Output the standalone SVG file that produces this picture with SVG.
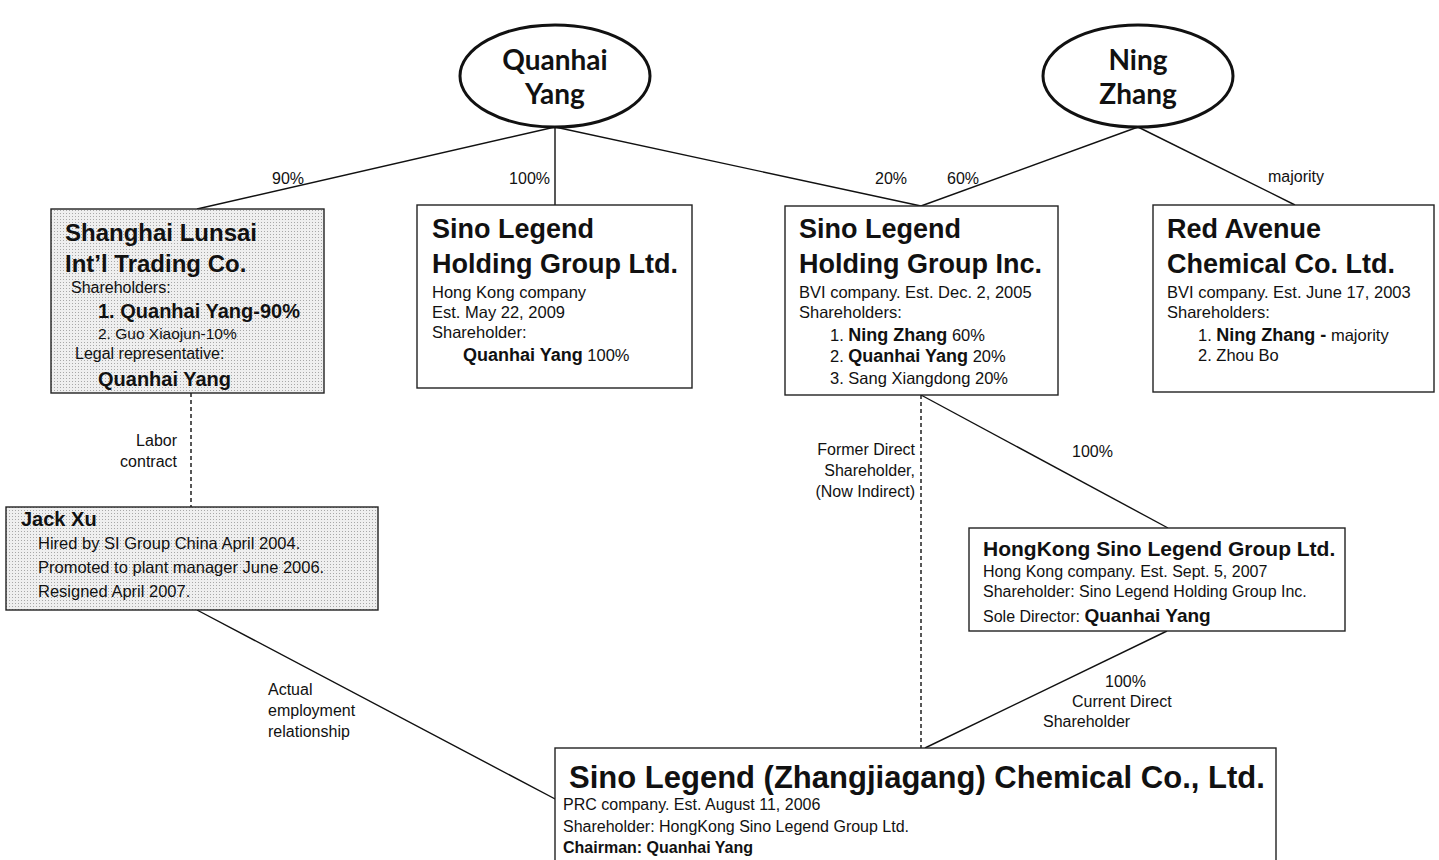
<svg xmlns="http://www.w3.org/2000/svg" width="1439" height="860" viewBox="0 0 1439 860">
<defs>
<pattern id="ht" width="3" height="3" patternUnits="userSpaceOnUse">
<rect width="3" height="3" fill="#efefef"/>
<rect width="1" height="1" fill="#a8a8a8"/>
</pattern>
</defs>
<style>
text{font-family:"Liberation Sans",Arial,sans-serif;fill:#111}
.box{fill:#fff;stroke:#222;stroke-width:1.4}
.shade{fill:url(#ht);stroke:#222;stroke-width:1.4}
.ell{fill:#fff;stroke:#111;stroke-width:3}
.person{font-family:Lato,"Open Sans",sans-serif;font-weight:700;font-size:28px;text-anchor:middle}
.t1{font-size:27px;font-weight:700}
.t2{font-size:24px;font-weight:700}
.b{font-size:16.5px}
.bb{font-weight:700}
.lbl{font-size:16px}
.end{text-anchor:end}
.ln{stroke:#111;stroke-width:1.4;fill:none}
.dash{stroke:#111;stroke-width:1.4;fill:none;stroke-dasharray:4 3}
</style>
<g id="connectors">
<line class="ln" x1="555" y1="127" x2="197" y2="209"/>
<line class="ln" x1="555" y1="127" x2="555" y2="205"/>
<line class="ln" x1="555" y1="127" x2="921" y2="206"/>
<line class="ln" x1="1138" y1="127" x2="921" y2="206"/>
<line class="ln" x1="1138" y1="127" x2="1295" y2="205"/>
<line class="ln" x1="921" y1="395" x2="1168" y2="528"/>
<line class="dash" x1="921" y1="395" x2="921" y2="748"/>
<line class="dash" x1="191" y1="393" x2="191" y2="507"/>
<polyline class="ln" points="197,610 557,800 563,806"/>
<line class="ln" x1="1167" y1="631" x2="925" y2="748"/>
<text class="lbl" x="272" y="184">90%</text>
<text class="lbl end" x="550" y="184">100%</text>
<text class="lbl" x="875" y="184">20%</text>
<text class="lbl" x="947" y="184">60%</text>
<text class="lbl" x="1268" y="182">majority</text>
<text class="lbl end" x="177" y="446">Labor</text>
<text class="lbl end" x="177" y="467">contract</text>
<text class="lbl end" x="915" y="455">Former Direct</text>
<text class="lbl end" x="915" y="476">Shareholder,</text>
<text class="lbl end" x="915" y="497">(Now Indirect)</text>
<text class="lbl" x="1072" y="457">100%</text>
<text class="lbl" x="268" y="695">Actual</text>
<text class="lbl" x="268" y="716">employment</text>
<text class="lbl" x="268" y="737">relationship</text>
<text class="lbl" x="1105" y="687">100%</text>
<text class="lbl" x="1072" y="707">Current Direct</text>
<text class="lbl" x="1043" y="727">Shareholder</text>
</g>
<g id="quanhai-yang">
<ellipse class="ell" cx="555" cy="76" rx="95" ry="51"/>
<text class="person" x="555" y="70">Quanhai</text>
<text class="person" x="555" y="104">Yang</text>
</g>
<g id="ning-zhang">
<ellipse class="ell" cx="1138" cy="76" rx="95" ry="51"/>
<text class="person" x="1138" y="70">Ning</text>
<text class="person" x="1138" y="104">Zhang</text>
</g>
<g id="shanghai-lunsai">
<rect class="shade" x="51" y="209" width="273" height="184"/>
<text class="t2" x="65" y="241">Shanghai Lunsai</text>
<text class="t2" x="65" y="272">Int’l Trading Co.</text>
<text class="b" x="71" y="293" style="font-size:16px">Shareholders:</text>
<text class="bb" x="98" y="318" style="font-size:20px">1. Quanhai Yang-90%</text>
<text x="98" y="339" style="font-size:15.5px">2. Guo Xiaojun-10%</text>
<text x="75" y="359" style="font-size:16px">Legal representative:</text>
<text class="bb" x="98" y="386" style="font-size:20px">Quanhai Yang</text>
</g>
<g id="jack-xu">
<rect class="shade" x="6" y="507" width="372" height="103"/>
<text class="bb" x="21" y="526" style="font-size:20px">Jack Xu</text>
<text class="b" x="38" y="549">Hired by SI Group China April 2004.</text>
<text class="b" x="38" y="573">Promoted to plant manager June 2006.</text>
<text class="b" x="38" y="597">Resigned April 2007.</text>
</g>
<g id="sino-legend-ltd">
<rect class="box" x="417" y="205" width="275" height="183"/>
<text class="t1" x="432" y="238">Sino Legend</text>
<text class="t1" x="432" y="273">Holding Group Ltd.</text>
<text class="b" x="432" y="298">Hong Kong company</text>
<text class="b" x="432" y="318">Est. May 22, 2009</text>
<text class="b" x="432" y="338">Shareholder:</text>
<text class="b" x="463" y="361"><tspan class="bb" style="font-size:18px">Quanhai Yang</tspan> 100%</text>
</g>
<g id="sino-legend-inc">
<rect class="box" x="785" y="206" width="273" height="189"/>
<text class="t1" x="799" y="238">Sino Legend</text>
<text class="t1" x="799" y="273">Holding Group Inc.</text>
<text class="b" x="799" y="298">BVI company. Est. Dec. 2, 2005</text>
<text class="b" x="799" y="318">Shareholders:</text>
<text class="b" x="830" y="341">1. <tspan class="bb" style="font-size:18px">Ning Zhang</tspan> 60%</text>
<text class="b" x="830" y="362">2. <tspan class="bb" style="font-size:18px">Quanhai Yang</tspan> 20%</text>
<text class="b" x="830" y="384">3. Sang Xiangdong 20%</text>
</g>
<g id="red-avenue">
<rect class="box" x="1153" y="205" width="281" height="187"/>
<text class="t1" x="1167" y="238">Red Avenue</text>
<text class="t1" x="1167" y="273">Chemical Co. Ltd.</text>
<text class="b" x="1167" y="298">BVI company. Est. June 17, 2003</text>
<text class="b" x="1167" y="318">Shareholders:</text>
<text class="b" x="1198" y="341">1. <tspan class="bb" style="font-size:18px">Ning Zhang -</tspan> majority</text>
<text class="b" x="1198" y="361">2. Zhou Bo</text>
</g>
<g id="hongkong-sino-legend">
<rect class="box" x="969" y="528" width="376" height="103"/>
<text class="bb" x="983" y="556" style="font-size:21px">HongKong Sino Legend Group Ltd.</text>
<text class="b" x="983" y="577" style="font-size:16px">Hong Kong company. Est. Sept. 5, 2007</text>
<text class="b" x="983" y="597" style="font-size:16px">Shareholder: Sino Legend Holding Group Inc.</text>
<text class="b" x="983" y="622" style="font-size:16px">Sole Director: <tspan class="bb" style="font-size:19px">Quanhai Yang</tspan></text>
</g>
<g id="sino-legend-zhangjiagang">
<rect class="box" x="555" y="748" width="721" height="116"/>
<text class="bb" x="569" y="788" style="font-size:31px">Sino Legend (Zhangjiagang) Chemical Co., Ltd.</text>
<text class="b" x="563" y="810" style="font-size:16px">PRC company. Est. August 11, 2006</text>
<text class="b" x="563" y="832" style="font-size:16px">Shareholder: HongKong Sino Legend Group Ltd.</text>
<text class="b bb" x="563" y="853" style="font-size:16px">Chairman: Quanhai Yang</text>
</g>
</svg>
